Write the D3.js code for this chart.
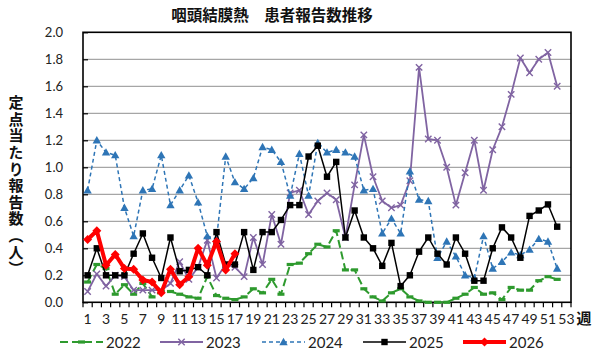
<!DOCTYPE html>
<html><head><meta charset="utf-8">
<script src="https://cdn.jsdelivr.net/npm/d3@7"></script>
<style>
html,body{margin:0;padding:0;background:#fff;}
svg{display:block;}
</style>
</head><body>
<svg id="c" width="600" height="361"></svg>
<script>
const title = "咽頭結膜熱　患者報告数推移";
const yTitle = "定点当たり報告数（人）";
const xUnit = "週";
const weeks = d3.range(1, 54);
const xTickLabels = d3.range(1, 54, 2);
const yTicks = [0, 0.2, 0.4, 0.6, 0.8, 1.0, 1.2, 1.4, 1.6, 1.8, 2.0];
const seriesNames = ["2022", "2023", "2024", "2025", "2026"];

const v2022 = [0.15,0.28,0.25,0.06,0.13,0.06,0.14,0.04,0.08,0.08,0.06,0.04,0.03,0.19,0.05,0.03,0.02,0.04,0.10,0.07,0.17,0.06,0.28,0.29,0.36,0.43,0.41,0.53,0.24,0.24,0.10,0.04,0.01,0.07,0.10,0.04,0.01,0.00,0.00,0.00,0.03,0.06,0.11,0.06,0.07,0.02,0.11,0.09,0.09,0.16,0.19,0.17];
const v2023 = [0.08,0.21,0.12,0.20,0.19,0.09,0.09,0.09,0.09,0.14,0.30,0.17,0.26,0.46,0.18,0.28,0.26,0.19,0.48,0.28,0.65,0.43,0.81,0.83,0.65,0.75,0.81,0.76,0.48,0.87,1.24,0.93,0.75,0.70,0.72,0.90,1.74,1.21,1.20,1.00,0.72,0.96,1.20,0.83,1.13,1.30,1.54,1.81,1.70,1.80,1.85,1.60];
const v2024 = [0.83,1.20,1.11,1.09,0.70,0.49,0.83,0.84,1.09,0.72,0.83,0.94,0.74,0.49,0.47,1.08,0.89,0.84,0.92,1.15,1.13,1.04,0.79,1.10,0.79,1.18,1.11,1.13,1.11,1.08,0.83,0.84,0.51,0.62,0.51,0.97,0.76,0.75,0.33,0.45,0.34,0.20,0.18,0.49,0.25,0.30,0.37,0.35,0.39,0.47,0.45,0.25];
const v2025 = [0.20,0.40,0.20,0.20,0.20,0.36,0.51,0.33,0.18,0.48,0.23,0.24,0.26,0.20,0.52,0.28,0.28,0.52,0.24,0.52,0.52,0.61,0.72,0.72,1.08,1.16,0.93,1.04,0.48,0.68,0.48,0.40,0.27,0.44,0.12,0.20,0.375,0.48,0.36,0.28,0.48,0.36,0.16,0.16,0.40,0.555,0.48,0.33,0.64,0.68,0.725,0.56];
const v2026 = [0.465,0.53,0.275,0.355,0.25,0.245,0.165,0.15,0.07,0.245,0.13,0.19,0.40,0.275,0.45,0.24,0.36];

const styles = {
  "2022": {color:"#2e9a2e", width:2, dash:"8,4", marker:"dash"},
  "2023": {color:"#8064a2", width:1.8, dash:null, marker:"x"},
  "2024": {color:"#2e75b6", width:1.5, dash:"4,3", marker:"tri"},
  "2025": {color:"#000000", width:1.5, dash:null, marker:"sq"},
  "2026": {color:"#ff0000", width:4, dash:null, marker:"dia"}
};
const values = {"2022":v2022,"2023":v2023,"2024":v2024,"2025":v2025,"2026":v2026};

const svg = d3.select("#c");
const L = 83, R = 571, T = 32.3, B = 302.3;
const x = d3.scaleBand().domain(weeks).range([L, R]).paddingInner(0).paddingOuter(0);
const xc = w => x(w) + x.bandwidth()/2;
const y = d3.scaleLinear().domain([0, 2]).range([B, T]);
const numFont = "Lato, 'Open Sans', sans-serif";
const cjkFont = "'Noto Sans CJK JP', sans-serif";

// gridlines
svg.append("g").selectAll("line").data(yTicks.filter(d => d > 0 && d < 2)).join("line")
  .attr("x1", L).attr("x2", R).attr("y1", d => y(d)).attr("y2", d => y(d))
  .attr("stroke", "#a6a6a6").attr("stroke-width", 1.2);

// y axis
const yAxis = d3.axisLeft(y).tickValues(yTicks).tickFormat(d3.format(".1f")).tickSizeInner(-5).tickSizeOuter(0).tickPadding(20);
const gy = svg.append("g").attr("transform", `translate(${L},0)`).call(yAxis);
gy.select(".domain").remove();
gy.selectAll(".tick line").attr("stroke", "#000").attr("stroke-width", 1.2);
gy.selectAll("text").attr("font-family", numFont).attr("font-size", 13).attr("fill", "#222");

// x axis
const xAxis = d3.axisBottom(x).tickValues(weeks).tickSize(0).tickPadding(12)
  .tickFormat(d => xTickLabels.includes(d) ? d : "");
const gx = svg.append("g").attr("transform", `translate(0,${B})`).call(xAxis);
gx.select(".domain").remove();
gx.selectAll("text").attr("font-family", numFont).attr("font-size", 14).attr("fill", "#222");
// tick marks at category boundaries
svg.append("g").selectAll("line").data(weeks.concat([54])).join("line")
  .attr("x1", d => d === 54 ? R : x(d)).attr("x2", d => d === 54 ? R : x(d))
  .attr("y1", B).attr("y2", B + 5).attr("stroke", "#000").attr("stroke-width", 1.2);

// plot border
svg.append("rect").attr("x", L).attr("y", T).attr("width", R - L).attr("height", B - T)
  .attr("fill", "none").attr("stroke", "#000").attr("stroke-width", 1.6);

function drawMarker(g, type, cx, cy, color) {
  if (type === "dash") {
    g.append("rect").attr("x", cx - 3.5).attr("y", cy - 1.6).attr("width", 7).attr("height", 3.2).attr("fill", color);
  } else if (type === "x") {
    const s = 3.2;
    g.append("path").attr("d", `M${cx-s},${cy-s}L${cx+s},${cy+s}M${cx-s},${cy+s}L${cx+s},${cy-s}`)
      .attr("stroke", color).attr("stroke-width", 1.4).attr("fill", "none");
  } else if (type === "tri") {
    const s = 4.2;
    g.append("path").attr("d", `M${cx},${cy-s}L${cx+s},${cy+s*0.75}L${cx-s},${cy+s*0.75}Z`).attr("fill", color);
  } else if (type === "sq") {
    g.append("rect").attr("x", cx - 3.2).attr("y", cy - 3.2).attr("width", 6.4).attr("height", 6.4).attr("fill", color);
  } else if (type === "dia") {
    const s = 4.5;
    g.append("path").attr("d", `M${cx},${cy-s}L${cx+s},${cy}L${cx},${cy+s}L${cx-s},${cy}Z`).attr("fill", color);
  }
}

const line = d3.line().x((d, i) => xc(weeks[i])).y(d => y(d));
seriesNames.forEach(name => {
  const st = styles[name], vals = values[name];
  const g = svg.append("g");
  g.append("path").datum(vals).attr("d", line).attr("fill", "none")
    .attr("stroke", st.color).attr("stroke-width", st.width)
    .attr("stroke-dasharray", st.dash).attr("stroke-linejoin", "round");
  vals.forEach((v, i) => drawMarker(g, st.marker, xc(weeks[i]), y(v), st.color));
});

// title
svg.append("text").attr("x", 272).attr("y", 21).attr("text-anchor", "middle")
  .attr("font-family", cjkFont).attr("font-weight", "bold").attr("font-size", 15.5).attr("fill", "#111").text(title);

// y title vertical
svg.append("text").attr("x", 16).attr("y", 95)
  .attr("font-family", cjkFont).attr("font-weight", "bold").attr("font-size", 15).attr("fill", "#111")
  .style("writing-mode", "vertical-rl").style("letter-spacing", "1.6px").text(yTitle);

// x unit
svg.append("text").attr("x", 584).attr("y", 324).attr("text-anchor", "middle")
  .attr("font-family", cjkFont).attr("font-weight", "bold").attr("font-size", 15).attr("fill", "#111").text(xUnit);

// legend
const legX = [60, 160, 262, 363, 463];
const lg = svg.append("g");
seriesNames.forEach((name, i) => {
  const st = styles[name], x0 = legX[i], ly = 342;
  lg.append("line").attr("x1", x0).attr("x2", x0 + 43).attr("y1", ly).attr("y2", ly)
    .attr("stroke", st.color).attr("stroke-width", st.width).attr("stroke-dasharray", st.dash);
  drawMarker(lg, st.marker, x0 + 21.5, ly, st.color);
  lg.append("text").attr("x", x0 + 46).attr("y", ly + 5.5).attr("font-family", numFont)
    .attr("font-size", 15).attr("fill", "#222").text(name);
});
</script>
</body></html>
